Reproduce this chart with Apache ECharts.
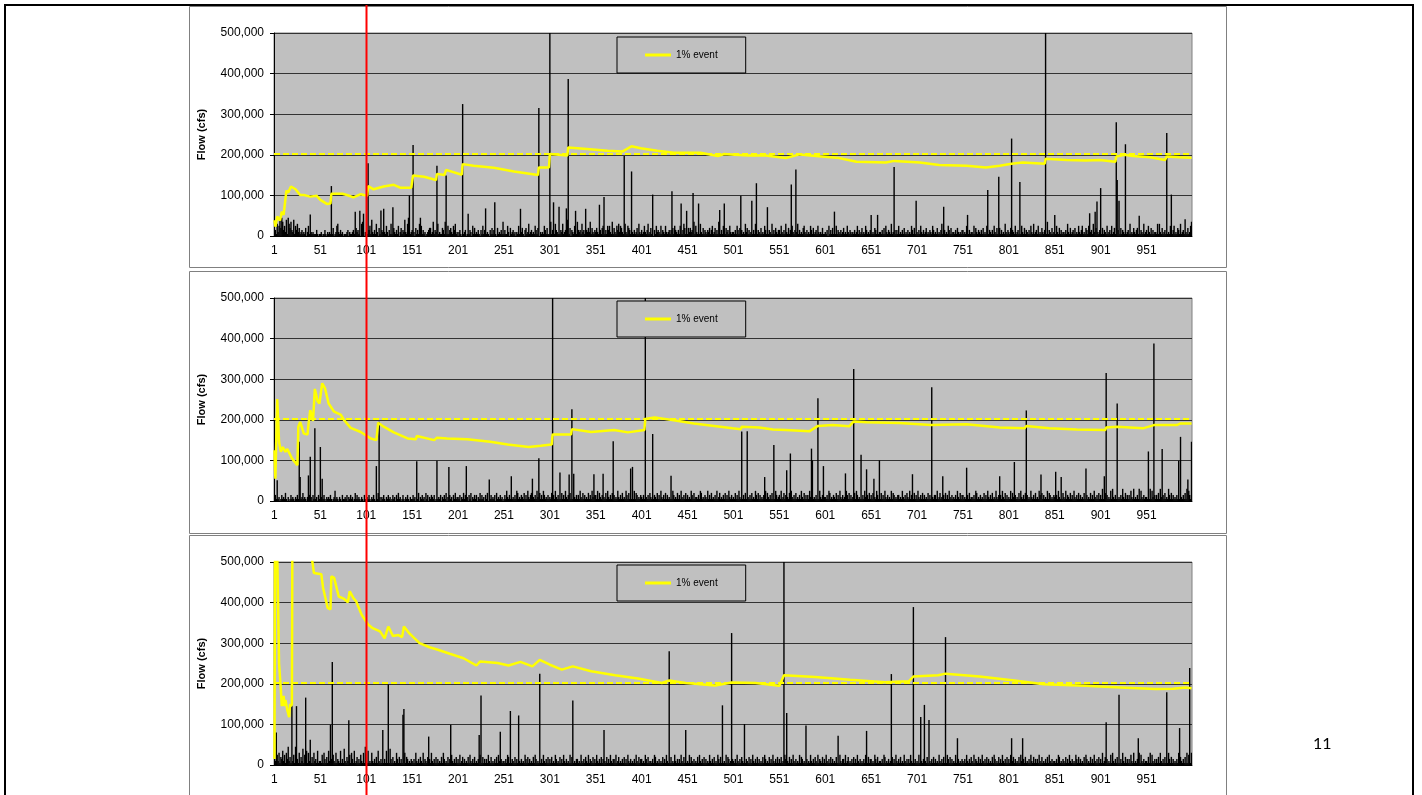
<!DOCTYPE html>
<html>
<head>
<meta charset="utf-8">
<script src="https://cdn.jsdelivr.net/npm/echarts@6/dist/echarts.min.js"></script>
<style>
  html, body { margin: 0; padding: 0; background: #fff; }
  #chart { width: 1422px; height: 795px; }
</style>
</head>
<body>
<div id="chart"></div>
<script>
// annual peak flows for the 3 simulated 1000-year traces
// low background years: one digit per year, 1 unit = 5,000 cfs
const baseTop = [
  "1316258497 3528196473 2815362412 3121402513 2121113101",
  "1201131021 2131401256 2131201112 3021123104 2315067102",
  "2103518213 1620417321 2152031611 4213150241 3282169312",
  "3120413162 5131201234 4127132061 2114317215 1342153612",
  "0231051230 1213205141 2131031513 4121031413 2104121317",
  "1311520412 3120215132 4103412612 3121531420 2121531411",
  "2713216321 4132612318 2140321531 7323162318 3242714213",
  "2421531452 1315352171 4215362542 1362154314 2131241621",
  "3125213612 4120315232 1513215212 3130415321 3152136413",
  "1424231715 2131621413 2132413512 4131721315 2142315212",
  "2131531423 1216241312 5131621321 4121531513 2161314213",
  "3152131621 4131521312 6131214521 3121531412 3152121411",
  "2130513141 2151321312 4121521321 2131251312 4121531213",
  "3121431512 2131415213 2161213131 5121314121 3121531412",
  "2131521312 4121321531 2141213612 3121531412 2131421213",
  "3121521312 2151421321 3141215213 2131521412 4131216213",
  "2141321512 3121521413 2131521612 3151214213 2171321412",
  "3152141312 2131621412 3141215213 5121431512 3162141213",
  "2141321512 3151241613 2141321812 3161214213 4171321612",
  "3152141312 2161621412 3141215213 5121431612 3162141257"
];
const baseMid = [
  "2314120131 2141020131 2102131031 2412102131 2031412031",
  "1201310212 1310125121 0210311213 0213120141 3121021031",
  "0213102131 0214120213 1021312013 1203141201 3102131021",
  "1312031402 1312041302 1321301412 1302131402 1312031412",
  "2130214131 2031402131 3021413120 3140213121 3041213120",
  "1315213141 2131541213 2141315213 4121315214 1315312131",
  "2141315213 1214131521 3141215213 1315214131 2141315213",
  "3151421312 1415213141 3121521314 1215314131 2151431213",
  "2131521314 2151321413 1521314131 2141531214 1315213141",
  "3121531412 2131541213 2151314121 3151241213 1413152131",
  "2141315213 1314152131 4121531413 1213151421 3141215312",
  "3151241312 1415213141 2131521413 1315214121 3141521312",
  "2131541213 2141315213 1215314131 2141531214 1315213141",
  "3141215312 1413152131 2151431213 3121521314 2151321413",
  "1521314131 2141315213 3151241213 1413152131 2131521413",
  "3121531412 2131541213 1214131521 3141215213 1315214131",
  "2151421312 1415213141 3121521314 1215314131 2151431213",
  "2131521314 2151321413 1521314131 2141531214 1315213141",
  "3161241312 1516213141 2131621413 1315216121 3161521312",
  "2141615213 1314162131 4121631413 1213161421 3141615316"
];
const baseLow = [
  "3215261437 2516392417 2519231614 2815371623 1416231712",
  "2151631417 2131521613 2171318214 2151631712 4131521613",
  "3171216213 1417213141 3171218314 1216314131 2161431213",
  "2131621314 2161321413 1621314131 2141631214 1315213141",
  "3151241312 1415213141 2131521413 1315214121 3141521312",
  "2131541213 2141315213 1215314131 2141531214 1315213141",
  "3141215312 1413152131 2151431213 3121521314 2151321413",
  "1521314131 2141315213 3151241213 1413152131 2131521413",
  "3121531412 2131541213 1214131521 3141215213 1315214131",
  "2151421312 1415213141 3121521314 1215314131 2151431213",
  "2131521314 2151321413 1521314131 2141531214 1315213141",
  "3141215312 1413152131 2151431213 3121521314 2151321413",
  "1521314131 2141315213 3151241213 1413152131 2131521413",
  "3121531412 2131541213 1214131521 3141215213 1315214131",
  "2151421312 1415213141 3121521314 1215314131 2151431213",
  "2131521314 2151321413 1521314131 2141531214 1315213141",
  "3151241312 1415213141 2131521413 1315214121 3141521312",
  "2131541213 2141315213 1215314131 2141531214 1315213141",
  "3161241312 1516213141 2131621413 1315216121 3161521312",
  "2141615213 1314162131 4121631413 1213161421 3141615316"
];

// bigger floods [year, cfs]
const spikesTop = [[40,53000],[63,123000],[89,60000],[94,62000],[98,55000],[103,179000],[117,63000],[120,67000],[130,71000],[148,100000],[152,224000],[160,45000],[178,173000],[188,149000],[206,325000],[212,55000],[231,68000],[241,83000],[269,67000],[289,315000],[301,600000],[305,83000],[311,72000],[319,68000],[321,387000],[329,62000],[340,67000],[355,77000],[360,96000],[382,197000],[390,159000],[413,102000],[434,110000],[444,80000],[450,62000],[457,106000],[463,80000],[486,64000],[491,80000],[509,99000],[521,87000],[526,130000],[538,71000],[564,127000],[569,164000],[611,60000],[651,52000],[658,52000],[676,170000],[700,87000],[730,72000],[756,52000],[778,113000],[790,146000],[804,240000],[813,133000],[841,600000],[851,52000],[889,56000],[895,60000],[897,85000],[901,118000],[918,280000],[919,138000],[921,87000],[928,226000],[943,50000],[973,254000],[978,102000],[993,41000]];
const spikesMid = [[4,51000],[28,146000],[29,59000],[38,63000],[40,109000],[45,179000],[51,133000],[53,55000],[112,86000],[115,195000],[156,98000],[178,99000],[191,84000],[210,86000],[235,53000],[259,61000],[282,55000],[289,105000],[304,600000],[312,70000],[322,65000],[325,226000],[327,67000],[349,66000],[359,67000],[370,147000],[389,80000],[391,84000],[405,600000],[413,165000],[433,62000],[510,171000],[516,172000],[535,59000],[545,138000],[559,76000],[563,117000],[586,129000],[587,100000],[593,253000],[599,86000],[623,68000],[632,325000],[640,114000],[646,78000],[654,55000],[660,100000],[696,66000],[717,280000],[729,61000],[755,82000],[791,61000],[807,96000],[820,223000],[836,65000],[852,72000],[858,59000],[885,80000],[905,61000],[907,315000],[919,240000],[953,122000],[959,388000],[968,128000],[986,99000],[988,158000],[996,53000],[1000,146000]];
const spikesLow = [[3,80000],[20,146000],[25,145000],[35,166000],[40,62000],[62,99000],[64,254000],[82,110000],[100,45000],[119,86000],[125,198000],[141,124000],[142,138000],[169,70000],[193,99000],[224,74000],[226,171000],[247,82000],[258,133000],[267,122000],[290,225000],[326,159000],[360,86000],[431,280000],[449,86000],[489,147000],[499,325000],[513,101000],[556,600000],[559,128000],[580,97000],[615,72000],[646,84000],[673,224000],[697,389000],[705,118000],[709,148000],[714,111000],[732,315000],[745,66000],[804,66000],[816,66000],[907,105000],[921,173000],[942,66000],[973,179000],[987,91000],[998,239000]];

// running 1% event estimate [year, cfs]
const runTop = [[1,39000],[2,23000],[4,48000],[7,38000],[9,60000],[11,52000],[14,112000],[16,107000],[19,122000],[24,115000],[29,101000],[33,101000],[40,97000],[47,99000],[51,89000],[58,79000],[62,80000],[63,104000],[75,104000],[80,101000],[87,95000],[95,103000],[102,99000],[103,123000],[109,115000],[120,122000],[131,126000],[138,119000],[150,119000],[152,149000],[164,146000],[177,138000],[178,153000],[186,150000],[188,163000],[205,151000],[206,177000],[218,173000],[240,168000],[262,159000],[288,150000],[289,169000],[300,169000],[301,202000],[320,198000],[321,218000],[338,215000],[364,210000],[380,208000],[382,212000],[390,221000],[400,216000],[418,210000],[436,205000],[465,205000],[484,197000],[491,202000],[502,200000],[518,198000],[536,198000],[558,192000],[573,201000],[591,197000],[616,192000],[635,183000],[667,181000],[676,185000],[704,181000],[725,175000],[755,173000],[776,169000],[791,173000],[804,178000],[816,181000],[840,178000],[841,190000],[864,187000],[885,186000],[900,187000],[917,183000],[918,196000],[927,200000],[936,197000],[955,194000],[971,187000],[973,196000],[987,194000],[1000,193000]];
const runMid = [[1,125000],[2,55000],[4,251000],[6,146000],[8,121000],[10,133000],[13,121000],[15,128000],[20,105000],[26,88000],[27,183000],[29,195000],[33,166000],[37,164000],[38,187000],[40,224000],[43,197000],[45,276000],[48,246000],[50,240000],[53,290000],[56,278000],[60,240000],[66,220000],[73,213000],[77,199000],[84,180000],[95,170000],[106,154000],[112,150000],[114,193000],[120,183000],[131,169000],[146,154000],[155,152000],[156,160000],[175,150000],[178,156000],[189,154000],[211,152000],[236,146000],[255,139000],[278,133000],[291,136000],[303,139000],[304,164000],[324,164000],[325,177000],[346,170000],[371,175000],[386,169000],[404,175000],[405,202000],[415,206000],[436,199000],[458,191000],[480,185000],[500,179000],[509,177000],[510,183000],[529,181000],[544,176000],[558,175000],[584,172000],[593,185000],[609,187000],[627,184000],[632,196000],[646,194000],[682,192000],[716,187000],[717,191000],[755,189000],[791,181000],[818,179000],[820,185000],[845,179000],[875,176000],[906,175000],[907,181000],[919,183000],[947,179000],[959,187000],[984,187000],[988,191000],[1000,191000]];
const runLow = [[1,15000],[2,900000],[4,520000],[6,250000],[8,185000],[9,145000],[11,170000],[12,145000],[13,160000],[15,135000],[17,118000],[18,150000],[19,145000],[20,150000],[21,950000],[42,505000],[44,473000],[52,470000],[54,436000],[59,387000],[62,383000],[63,465000],[66,461000],[71,415000],[77,409000],[81,401000],[83,428000],[87,411000],[90,403000],[96,370000],[103,346000],[108,337000],[116,329000],[121,312000],[125,341000],[130,318000],[136,320000],[140,315000],[142,341000],[148,324000],[159,300000],[170,290000],[179,284000],[192,274000],[194,278000],[207,263000],[221,245000],[225,255000],[244,251000],[256,245000],[269,254000],[282,243000],[290,259000],[301,247000],[314,235000],[326,243000],[346,231000],[372,221000],[397,213000],[423,202000],[431,208000],[449,202000],[481,196000],[499,203000],[525,202000],[551,195000],[556,221000],[590,217000],[628,210000],[666,204000],[692,206000],[697,218000],[724,221000],[732,225000],[769,218000],[807,208000],[839,199000],[884,195000],[923,191000],[961,187000],[980,188000],[993,191000],[1000,189000]];

const oneInHundred = 203000;
const redYear = 101;

const years = [];
for (let i = 1; i <= 1000; i++) years.push(String(i));

const buildBars = (base, spikes) => {
  const s = base.join("").replace(/\s/g, "");
  const out = years.map((y, i) => (+s[i] || 0) * 5000);
  spikes.forEach(([n, v]) => { out[n - 1] = v; });
  return out;
};
const buildRun = (run) => run.map(([n, v]) => [n - 1, v]);

const panels = [
  { bars: buildBars(baseTop, spikesTop), run: buildRun(runTop) },
  { bars: buildBars(baseMid, spikesMid), run: buildRun(runMid) },
  { bars: buildBars(baseLow, spikesLow), run: buildRun(runLow) }
];

const gridTops = [33, 298, 562];
const legendTops = [37, 301, 565];
const font = "Liberation Sans";

const chart = echarts.init(document.getElementById("chart"));

const option = {
  animation: false,
  grid: gridTops.map((t) => ({
    left: 274, top: t, width: 918, height: 203,
    show: true, backgroundColor: "#c0c0c0", borderColor: "#808080", borderWidth: 1
  })),
  legend: legendTops.map((t) => ({
    left: 617, top: t,
    data: ["1% event"],
    icon: "rect", itemWidth: 26, itemHeight: 3,
    backgroundColor: "#c0c0c0", borderColor: "#000", borderWidth: 1, borderRadius: 0,
    padding: [13, 28, 13, 28],
    selectedMode: false,
    textStyle: { fontFamily: font, fontSize: 10, color: "#000" }
  })),
  xAxis: gridTops.map((t, i) => ({
    type: "category", gridIndex: i, data: years,
    axisLine: { lineStyle: { color: "#000" } },
    axisTick: { show: false },
    axisLabel: { interval: 49, margin: 9, fontFamily: font, fontSize: 12, color: "#000" },
    splitLine: { show: false }
  })),
  yAxis: gridTops.map((t, i) => ({
    type: "value", gridIndex: i, min: 0, max: 500000, interval: 100000,
    name: "Flow (cfs)", nameLocation: "middle", nameGap: 67,
    nameTextStyle: { fontFamily: font, fontSize: 11, fontWeight: "bold", color: "#000" },
    axisLine: { show: true, lineStyle: { color: "#000" } },
    axisTick: { show: true, length: 4, lineStyle: { color: "#000" } },
    axisLabel: {
      margin: 10, fontFamily: font, fontSize: 12, color: "#000",
      formatter: (v) => v.toLocaleString("en-US")
    },
    splitLine: { lineStyle: { color: "#333", width: 1 } }
  })),
  series: []
};

panels.forEach((p, i) => {
  option.series.push({
    name: "annual peak", type: "bar", xAxisIndex: i, yAxisIndex: i,
    data: p.bars, barWidth: 1.4, itemStyle: { color: "#000" }, silent: true
  });
  option.series.push({
    name: "1% event", type: "line", xAxisIndex: i, yAxisIndex: i,
    data: p.run, showSymbol: false, symbol: "none", clip: true, z: 5,
    lineStyle: { color: "#ffff00", width: 2.5 }, itemStyle: { color: "#ffff00" },
    markLine: {
      silent: true, symbol: "none", label: { show: false },
      lineStyle: { color: "#ffff00", type: [6, 3], width: 2 },
      data: [{ yAxis: oneInHundred }]
    }
  });
});

chart.setOption(option);

// slide frame, chart boxes, red marker at year 101, page number
const redX = Math.round(chart.convertToPixel({ xAxisIndex: 0 }, redYear - 1)) + 0.5;
chart.setOption({
  graphic: [
    { type: "rect", z: -10, shape: { x: 5, y: 5, width: 1408, height: 800 },
      style: { fill: "none", stroke: "#000", lineWidth: 2 } },
    { type: "rect", z: -10, shape: { x: 189.5, y: 6.5, width: 1037, height: 261 },
      style: { fill: "none", stroke: "#808080", lineWidth: 1 } },
    { type: "rect", z: -10, shape: { x: 189.5, y: 271.5, width: 1037, height: 262 },
      style: { fill: "none", stroke: "#808080", lineWidth: 1 } },
    { type: "rect", z: -10, shape: { x: 189.5, y: 535.5, width: 1037, height: 270 },
      style: { fill: "none", stroke: "#808080", lineWidth: 1 } },
    { type: "line", z: 100, shape: { x1: redX, y1: 5, x2: redX, y2: 795 },
      style: { stroke: "#ff0000", lineWidth: 2 } },
    { type: "text", left: 1313, top: 736,
      style: { text: "11", font: "16px Lato", fill: "#000" } }
  ]
});
</script>
</body>
</html>
